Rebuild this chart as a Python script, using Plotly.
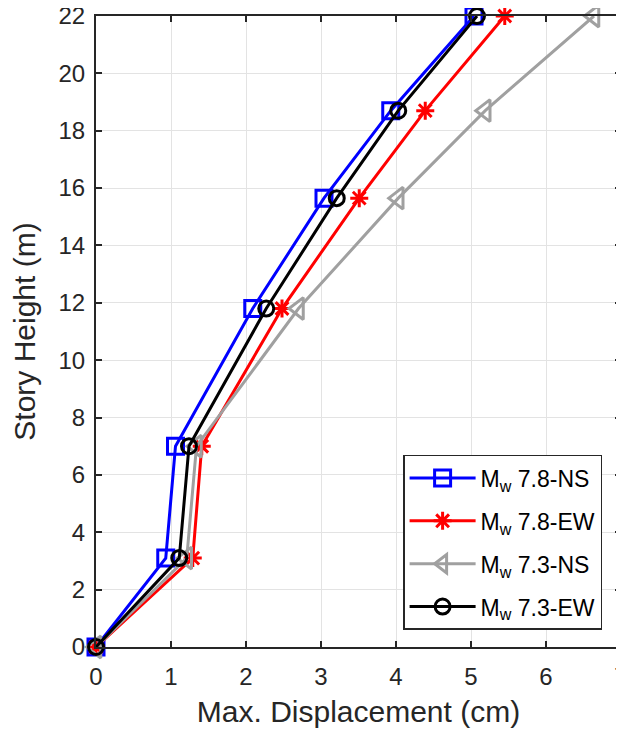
import plotly.graph_objects as go

story_height = [0, 3.1, 7.0, 11.8, 15.65, 18.7, 22.0]
disp_78_ns = [0, 0.93, 1.06, 2.09, 3.04, 3.93, 5.04]
disp_78_ew = [0, 1.29, 1.41, 2.48, 3.51, 4.39, 5.45]
disp_73_ns = [0, 1.21, 1.34, 2.70, 4.03, 5.19, 6.64]
disp_73_ew = [0, 1.11, 1.24, 2.27, 3.21, 4.03, 5.08]
names = ["M<sub>w</sub> 7.8-NS", "M<sub>w</sub> 7.8-EW", "M<sub>w</sub> 7.3-NS", "M<sub>w</sub> 7.3-EW"]
x_ticks = [0, 1, 2, 3, 4, 5, 6, 7]
y_ticks = [0, 2, 4, 6, 8, 10, 12, 14, 16, 18, 20, 22]

series = [
    (disp_78_ns, "#0000FF", "square-open", 16),
    (disp_78_ew, "#FF0000", "asterisk-open", 15),
    (disp_73_ns, "#A0A0A0", "triangle-left-open", 19),
    (disp_73_ew, "#000000", "circle-open", 15),
]

fig = go.Figure()
for i, ((xs, col, sym, sz), nm) in enumerate(zip(series, names)):
    fig.add_trace(go.Scatter(
        x=xs, y=story_height, mode="lines+markers", name=nm,
        legendgroup=f"g{i}",
        line=dict(color=col, width=3),
        marker=dict(symbol=sym, size=sz, color=col, line=dict(color=col, width=3)),
        cliponaxis=False,
    ))

axis_col = "#262626"
font_family = "Liberation Sans, Arial, sans-serif"
# the page body adds an 8px margin, so the figure is shifted by 8px
fig.update_layout(
    width=616, height=720,
    margin=dict(l=88, r=3, t=8, b=81),
    plot_bgcolor="white", paper_bgcolor="white",
    font=dict(family=font_family, color=axis_col, size=24),
    legend=dict(
        x=0.964, y=0.027, xanchor="right", yanchor="bottom",
        bgcolor="white", bordercolor=axis_col, borderwidth=1.5,
        font=dict(size=23, color="black"), tracegroupgap=10,
        itemwidth=66,
    ),
    showlegend=True,
)
fig.update_xaxes(
    range=[0, 7], tickvals=x_ticks, ticktext=[str(v) for v in x_ticks],
    tickfont=dict(size=24, family=font_family, color=axis_col),
    ticklabelstandoff=7, ticklabeloverflow="allow",
    showgrid=True, gridcolor="#e3e3e3", gridwidth=1,
    showline=True, linecolor=axis_col, linewidth=2, mirror="ticks",
    ticks="inside", ticklen=6, tickwidth=2, tickcolor=axis_col,
    zeroline=False, automargin=False,
    title=dict(text="Max. Displacement (cm)", font=dict(size=30), standoff=22),
)
fig.update_yaxes(
    range=[0, 22], tickvals=y_ticks, ticktext=[str(v) for v in y_ticks],
    tickfont=dict(size=24, family=font_family, color=axis_col),
    ticklabelstandoff=4, ticklabeloverflow="allow",
    showgrid=True, gridcolor="#e3e3e3", gridwidth=1,
    showline=True, linecolor=axis_col, linewidth=2, mirror="ticks",
    ticks="inside", ticklen=6, tickwidth=2, tickcolor=axis_col,
    zeroline=False, automargin=False,
    title=dict(text="Story Height (m)", font=dict(size=30), standoff=14),
)
fig.write_html("out.html")
